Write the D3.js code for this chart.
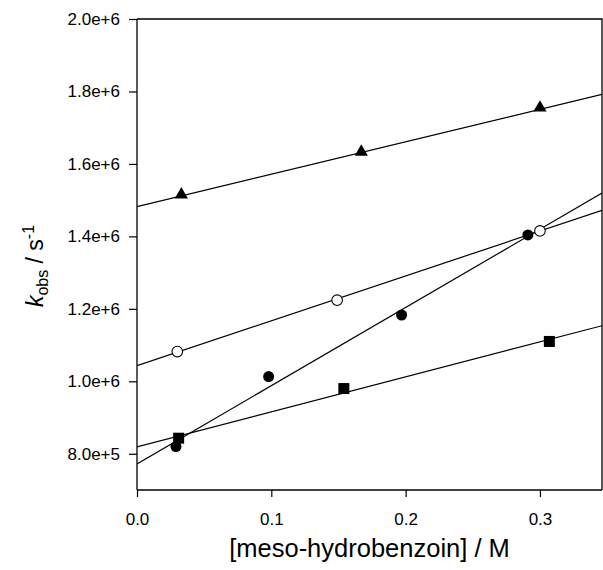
<!DOCTYPE html>
<html>
<head>
<meta charset="utf-8">
<script src="https://cdn.jsdelivr.net/npm/d3@7"></script>
<style>
  body { margin: 0; background: #fff; }
  svg { display: block; font-family: "Liberation Sans", Arial, sans-serif; }
</style>
</head>
<body>
<svg id="chart" width="603" height="570"></svg>
<script>
// data
var triX = [0.033, 0.167, 0.300];
var triY = [1.515e6, 1.633e6, 1.755e6];
var openX = [0.030, 0.149, 0.300];
var openY = [1.082e6, 1.224e6, 1.415e6];
var dotX = [0.029, 0.098, 0.197, 0.291];
var dotY = [0.820e6, 1.013e6, 1.183e6, 1.404e6];
var sqX = [0.031, 0.154, 0.307];
var sqY = [0.843e6, 0.980e6, 1.110e6];

// fitted lines: intercept, slope
var fitIntercept = [1.482e6, 1.043e6, 0.772e6, 0.819e6];
var fitSlope = [0.895e6, 1.239e6, 2.159e6, 0.966e6];

var xTicks = [0, 0.1, 0.2, 0.3];
var yTicks = [8e5, 1.0e6, 1.2e6, 1.4e6, 1.6e6, 1.8e6, 2.0e6];

var margin = {top: 19, right: 1, bottom: 80, left: 137};
var width = 603, height = 570;

var xScale = d3.scaleLinear()
  .domain([0, 0.3462])
  .range([margin.left, width - margin.right]);
var yScale = d3.scaleLinear()
  .domain([7e5, 2.0e6])
  .range([height - margin.bottom, margin.top]);

var svg = d3.select('#chart');

svg.append('clipPath').attr('id', 'plot')
  .append('rect')
  .attr('x', margin.left).attr('y', margin.top)
  .attr('width', xScale.range()[1] - margin.left)
  .attr('height', yScale.range()[0] - margin.top);

// frame (top and right)
svg.append('path')
  .attr('d', 'M' + margin.left + ',' + margin.top + 'H' + xScale.range()[1] + 'V' + yScale.range()[0])
  .attr('fill', 'none').attr('stroke', '#000').attr('stroke-width', 1.3);

// fit lines
var lineG = svg.append('g').attr('clip-path', 'url(#plot)');
fitIntercept.forEach(function(b, i) {
  var x0 = xScale.domain()[0], x1 = xScale.domain()[1];
  lineG.append('line')
    .attr('x1', xScale(x0)).attr('y1', yScale(b + fitSlope[i] * x0))
    .attr('x2', xScale(x1)).attr('y2', yScale(b + fitSlope[i] * x1))
    .attr('stroke', '#000').attr('stroke-width', 1.2);
});

// axes
var xAxis = d3.axisBottom(xScale)
  .tickValues(xTicks)
  .tickSizeOuter(0)
  .tickSize(7)
  .tickPadding(16)
  .tickFormat(d3.format('.1f'));
var yAxis = d3.axisLeft(yScale)
  .tickValues(yTicks)
  .tickSizeOuter(0)
  .tickSize(8)
  .tickPadding(9)
  .tickFormat(d3.format('.1e'));

var gx = svg.append('g')
  .attr('transform', 'translate(0,' + yScale.range()[0] + ')')
  .call(xAxis);
var gy = svg.append('g')
  .attr('transform', 'translate(' + margin.left + ',0)')
  .call(yAxis);
[gx, gy].forEach(function(g) {
  g.attr('font-size', 17).attr('font-family', '"Liberation Sans", Arial, sans-serif');
  g.select('.domain').attr('stroke-width', 1.3);
  g.selectAll('.tick line').attr('stroke-width', 1.2);
  g.selectAll('.tick text').attr('fill', '#000');
});
gx.select('.domain').attr('d', 'M' + margin.left + ',0H' + xScale.range()[1]);
gy.select('.domain').attr('d', 'M0,' + yScale.range()[0] + 'V' + margin.top);

// markers
var pts = svg.append('g');
pts.selectAll('.tri').data(triX).enter().append('path')
  .attr('d', d3.symbol(d3.symbolTriangle, 75))
  .attr('transform', function(d, i) { return 'translate(' + xScale(d) + ',' + yScale(triY[i]) + ')'; })
  .attr('fill', '#000');
pts.selectAll('.open').data(openX).enter().append('circle')
  .attr('cx', function(d) { return xScale(d); })
  .attr('cy', function(d, i) { return yScale(openY[i]); })
  .attr('r', 5.3)
  .attr('fill', '#fff').attr('stroke', '#000').attr('stroke-width', 1.1);
pts.selectAll('.dot').data(dotX).enter().append('circle')
  .attr('cx', function(d) { return xScale(d); })
  .attr('cy', function(d, i) { return yScale(dotY[i]); })
  .attr('r', 5.5)
  .attr('fill', '#000');
pts.selectAll('.sq').data(sqX).enter().append('rect')
  .attr('x', function(d) { return xScale(d) - 5.5; })
  .attr('y', function(d, i) { return yScale(sqY[i]) - 5.5; })
  .attr('width', 11).attr('height', 11)
  .attr('fill', '#000');

// axis titles
svg.append('text')
  .attr('x', (margin.left + xScale.range()[1]) / 2)
  .attr('y', 557)
  .attr('text-anchor', 'middle')
  .attr('font-size', 25.5)
  .text('[meso-hydrobenzoin] / M');

var yt = svg.append('text')
  .attr('transform', 'translate(43,' + 266 + ') rotate(-90)')
  .attr('text-anchor', 'middle')
  .attr('font-size', 23);
yt.append('tspan').attr('font-style', 'italic').text('k');
yt.append('tspan').attr('font-size', 16).attr('dy', 5).text('obs');
yt.append('tspan').attr('dy', -5).text(' / s');
yt.append('tspan').attr('font-size', 16).attr('dy', -9).text('-1');
</script>
</body>
</html>
